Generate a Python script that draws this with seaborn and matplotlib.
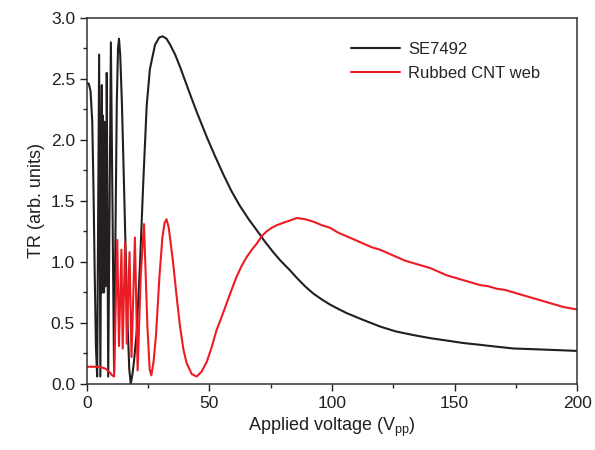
import numpy as np
import pandas as pd
import matplotlib
matplotlib.use("Agg")
import matplotlib.pyplot as plt
import seaborn as sns
from matplotlib.ticker import MultipleLocator

# values
se_v = [0, 0.8, 1.5, 2.2, 2.7, 3.2, 3.7, 4.2, 5.0, 5.5, 6.1, 6.2, 6.3, 6.4, 6.5, 6.6,
        6.7, 6.8, 6.9, 7.0, 7.1, 7.2, 7.3, 7.4, 7.5, 7.6, 7.7, 7.8, 7.9, 8.0, 8.1,
        8.7, 9.8, 11.1, 12.2, 12.7, 13.1, 13.6, 14.3, 15.0,
        15.8, 16.6, 17.3, 17.9, 18.6, 19.2, 20.3, 21.6, 23.0, 24.4, 25.7, 27.8, 29.5,
        30.9, 32.5, 34, 36, 38, 40, 42, 45, 49, 52, 55.6, 59, 62.4, 66, 69.3, 72.5,
        76, 79, 82.9, 85.6, 89, 92.4, 96, 99.2, 103, 106, 112, 119.6, 126, 133.2, 140,
        146.8, 153.5, 160.4, 167, 174, 181, 187.6, 194, 200]
se_tr = [2.47, 2.46, 2.40, 2.15, 1.6, 0.9, 0.3, 0.06, 2.70, 0.06, 2.45, 0.75, 1.85, 0.8,
         2.2, 0.75, 1.8, 0.85, 1.9, 0.75, 2.15, 0.8, 1.85, 0.9, 1.8, 0.8, 1.75, 0.95,
         2.0, 0.95, 2.55,
         0.06, 2.80, 0.10, 2.3, 2.75, 2.83, 2.7,
         2.3, 1.75, 1.1, 0.5, 0.12, 0.0, 0.08, 0.18, 0.42, 0.95, 1.65, 2.28, 2.58, 2.78,
         2.84, 2.85, 2.83, 2.78, 2.70, 2.60, 2.49, 2.38, 2.22, 2.02, 1.88, 1.72, 1.58,
         1.46, 1.35, 1.26, 1.17, 1.08, 1.01, 0.93, 0.87, 0.80, 0.74, 0.69, 0.65, 0.61,
         0.58, 0.53, 0.47, 0.43, 0.40, 0.375, 0.355, 0.335, 0.32, 0.305, 0.29, 0.285,
         0.28, 0.275, 0.27]

cnt_v = [0, 2, 4, 6, 7.5, 8.5, 9.5, 10.3, 11.1, 12.4, 13.1, 14.1, 14.6, 15.6, 16.3, 17.4,
         18.2, 19.6, 20.7, 22.0, 23.3, 24.7, 25.6, 26.3, 27.2, 28.2, 29.6, 30.8, 31.7,
         32.5, 33.4, 35.2, 36.6, 38, 39.4, 40.7, 42.8, 44.8, 46.8, 48.9, 50.9, 52.9, 55,
         57, 59, 61.1, 63.2, 65.2, 67.3, 69.3, 71.3, 73.3, 75.4, 77.4, 80, 82.9, 85.6,
         89, 92.4, 96, 99.2, 102.5, 106, 109.4, 112.8, 116.2, 119.6, 123, 126.4, 129.8,
         133.2, 136.6, 140, 143.4, 146.8, 150.2, 153.6, 157, 160.4, 163.8, 167.2, 170.6,
         174, 177.4, 180.8, 184.2, 187.6, 191, 194.4, 197.2, 200]
cnt_tr = [0.14, 0.14, 0.14, 0.135, 0.125, 0.11, 0.09, 0.07, 0.06, 1.18, 0.31, 1.10, 0.29,
          1.16, 0.33, 1.08, 0.22, 1.20, 0.11, 0.9, 1.31, 0.47, 0.12, 0.07, 0.18, 0.40,
          0.88, 1.20, 1.32, 1.35, 1.28, 0.99, 0.72, 0.47, 0.28, 0.17, 0.08, 0.06, 0.1,
          0.18, 0.30, 0.44, 0.55, 0.66, 0.77, 0.88, 0.97, 1.04, 1.10, 1.15, 1.21, 1.25,
          1.28, 1.30, 1.32, 1.34, 1.36, 1.35, 1.33, 1.30, 1.28, 1.24, 1.21, 1.18, 1.15,
          1.12, 1.10, 1.07, 1.04, 1.01, 0.99, 0.97, 0.95, 0.92, 0.89, 0.87, 0.85, 0.83,
          0.81, 0.80, 0.78, 0.77, 0.75, 0.73, 0.71, 0.69, 0.67, 0.65, 0.63, 0.62, 0.61]

df = pd.concat([
    pd.DataFrame({"V": se_v, "TR": se_tr, "sample": "SE7492"}),
    pd.DataFrame({"V": cnt_v, "TR": cnt_tr, "sample": "Rubbed CNT web"}),
])

sns.set_style("ticks")
plt.rcParams["font.family"] = ["Liberation Sans", "DejaVu Sans"]

fig = plt.figure(figsize=(5.95, 4.5), dpi=100)
ax = fig.add_axes([0.146, 0.147, 0.824, 0.813])

sns.lineplot(data=df, x="V", y="TR", hue="sample", estimator=None, sort=False,
             palette={"SE7492": "#231f20", "Rubbed CNT web": "#ed1c24"},
             linewidth=1.5, ax=ax)

ax.set_xlim(0, 200)
ax.set_ylim(0, 3.0)
ax.xaxis.set_major_locator(MultipleLocator(50))
ax.xaxis.set_minor_locator(MultipleLocator(25))
ax.yaxis.set_major_locator(MultipleLocator(0.5))
ax.yaxis.set_minor_locator(MultipleLocator(0.25))
ax.yaxis.set_major_formatter(matplotlib.ticker.FormatStrFormatter("%.1f"))
ax.tick_params(which="major", direction="out", length=5, width=1, labelsize=12.5,
               colors="#231f20")
ax.tick_params(which="minor", direction="out", length=3, width=1)
for s in ax.spines.values():
    s.set_linewidth(1.1)
    s.set_color("#333333")

ax.set_xlabel(r"Applied voltage (V$_\mathregular{pp}$)", fontsize=13, color="#231f20")
ax.set_ylabel("TR (arb. units)", fontsize=13, color="#231f20")

ax.legend(loc="upper right", bbox_to_anchor=(0.955, 0.975), frameon=False,
          fontsize=12, handlelength=2.9, handletextpad=0.5, labelspacing=0.55)

fig.savefig("out.png", dpi=100)
